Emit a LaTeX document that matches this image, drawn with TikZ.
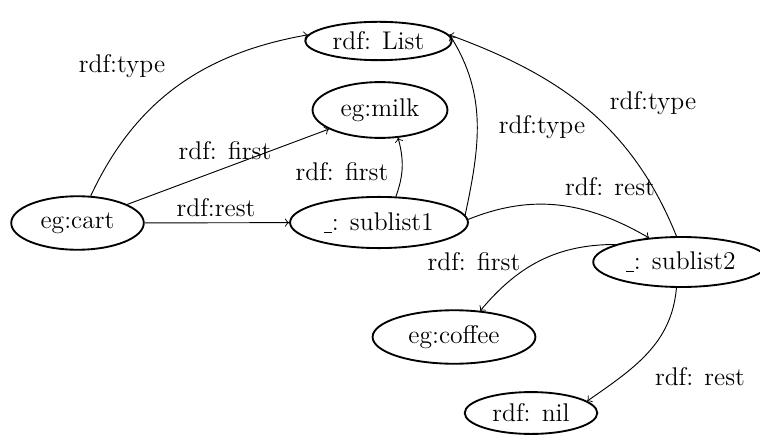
\documentclass[tikz,border=0pt]{standalone}
\usepackage{fontspec}
\usetikzlibrary{shapes.geometric}

\newcommand{\blank}{\rule[-0.25ex]{0.3em}{0.5pt}}

\begin{document}
\begin{tikzpicture}[x=0.43pt, y=0.43pt,
    nodes={font=\fontsize{11pt}{13pt}\selectfont},
    res/.style={draw, thick, ellipse, inner sep=0pt},
    lbl/.style={inner sep=0pt}]
    \useasboundingbox (0,0) rectangle (760,434);
    % resources
    \node[res, minimum width=63pt, minimum height=16.5pt] (list) at (378.5,393) {rdf: List};
    \node[res, minimum width=58pt, minimum height=24pt] (milk) at (380,324) {eg:milk};
    \node[res, minimum width=57pt, minimum height=23pt] (cart) at (77.5,211) {eg:cart};
    \node[res, minimum width=76.5pt, minimum height=22pt] (sub1) at (379,211.5) {\blank: sublist1};
    \node[res, minimum width=75.5pt, minimum height=21.5pt] (sub2) at (681,172) {\blank: sublist2};
    \node[res, minimum width=70pt, minimum height=23pt] (coffee) at (454,97) {eg:coffee};
    \node[res, minimum width=57pt, minimum height=18pt] (nil) at (531,21) {rdf: nil};
    % properties
    \draw[->] (cart.64) to[out=65, in=190] (list.175);
    \draw[->] (cart) -- (milk);
    \draw[->] (cart) -- (sub1);
    \draw[->] (sub1.57) to[out=70, in=-75] (milk.303);
    \draw[->] (sub1.5) to[out=78, in=-58] (list.4);
    \draw[->] (sub1.2) to[out=22, in=150] (sub2.143);
    \draw[->] (sub2.100) to[out=112, in=-20] (list.5);
    \draw[->] (sub2.165) to[out=180, in=50] (coffee.45);
    \draw[->] (sub2.260) to[out=-95, in=35] (nil.12);
    % labels
    \node[lbl] (type1) at (122,368) {rdf:type};
    \node[lbl] (first1) at (225,283) {rdf: first};
    \node[lbl] (rest1) at (216,226) {rdf:rest};
    \node[lbl] (first2) at (342,262) {rdf: first};
    \node[lbl] (type2) at (542,307) {rdf:type};
    \node[lbl] (type3) at (653,331) {rdf:type};
    \node[lbl] (rest2) at (610,247) {rdf: rest};
    \node[lbl] (first3) at (474,172) {rdf: first};
    \node[lbl] (rest3) at (700,57) {rdf: rest};
\end{tikzpicture}
\end{document}
